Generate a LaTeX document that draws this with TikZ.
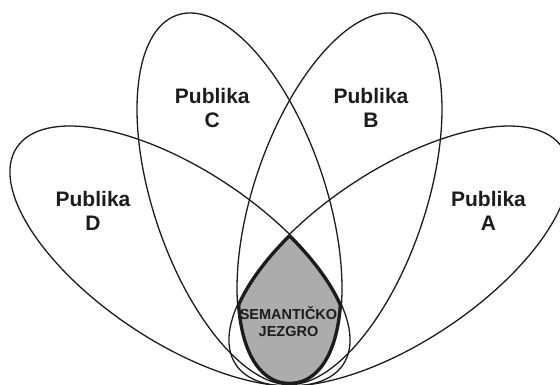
\documentclass[tikz,border=0pt]{standalone}
\usepackage{fontspec}
\setmainfont{Liberation Sans}
\definecolor{coregray}{RGB}{172,172,172}
\definecolor{inkgray}{RGB}{28,28,28}

\begin{document}
\begin{tikzpicture}[x=1pt,y=1pt]
    \tikzset{petal/.style = {draw=inkgray, line width=1.3pt}}
    \tikzset{pubtext/.style = {text=inkgray, align=center, font=\fontsize{21}{24}\selectfont\bfseries}}
    \tikzset{coretext/.style = {text=inkgray, align=center, font=\fontsize{14.5}{16.5}\selectfont\bfseries}}

    \clip (0,0) rectangle (560,385);

    % petal centres
    \coordinate (cD) at (180,129);
    \coordinate (cC) at (239.5,186.2);
    \coordinate (cB) at (339.5,186.2);
    \coordinate (cA) at (399,129);

    % semanticko jezgro = common part of all petals
    \begin{scope}
        \clip[rotate around={-33.6:(cD)}] (cD) ellipse (196pt and 86pt);
        \clip[rotate around={-71.3:(cC)}] (cC) ellipse (194pt and 86pt);
        \clip[rotate around={71.3:(cB)}] (cB) ellipse (194pt and 86pt);
        \clip[rotate around={33.6:(cA)}] (cA) ellipse (196pt and 86pt);
        \fill[coregray] (0,0) rectangle (560,385);
        \draw[inkgray, line width=5.4pt, rotate around={-33.6:(cD)}] (cD) ellipse (196pt and 86pt);
        \draw[inkgray, line width=5.4pt, rotate around={-71.3:(cC)}] (cC) ellipse (194pt and 86pt);
        \draw[inkgray, line width=5.4pt, rotate around={71.3:(cB)}] (cB) ellipse (194pt and 86pt);
        \draw[inkgray, line width=5.4pt, rotate around={33.6:(cA)}] (cA) ellipse (196pt and 86pt);
    \end{scope}

    % petals
    \draw[petal, rotate around={-33.6:(cD)}] (cD) ellipse (196pt and 86pt);
    \draw[petal, rotate around={-71.3:(cC)}] (cC) ellipse (194pt and 86pt);
    \draw[petal, rotate around={71.3:(cB)}] (cB) ellipse (194pt and 86pt);
    \draw[petal, rotate around={33.6:(cA)}] (cA) ellipse (196pt and 86pt);

    % labels
    \node[pubtext] (pubD) at (93,174.5) {Publika\\D};
    \node[pubtext] (pubC) at (212.3,277) {Publika\\C};
    \node[pubtext] (pubB) at (371,277) {Publika\\B};
    \node[pubtext] (pubA) at (488.5,174.5) {Publika\\A};
    \node[coretext] (core) at (288.5,63.5) {SEMANTIČKO\\JEZGRO};
\end{tikzpicture}
\end{document}
